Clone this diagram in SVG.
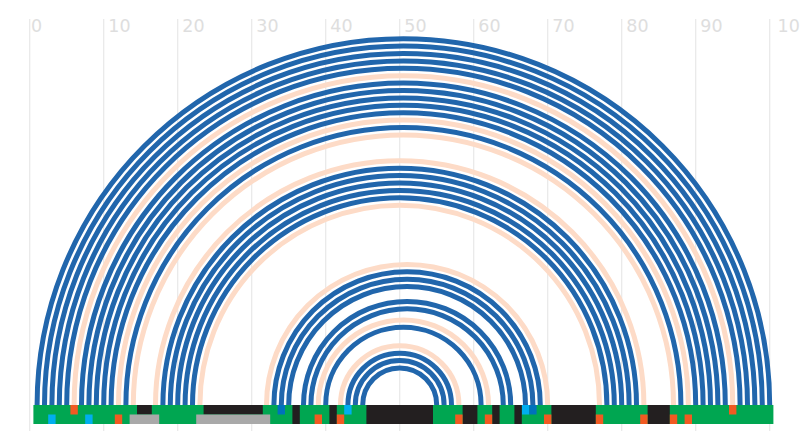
<svg xmlns="http://www.w3.org/2000/svg" width="800" height="448" viewBox="0 0 800 448">
<style>
.grid line{stroke:#e8e8e8;stroke-width:1.2}
.grid text{font-family:"DejaVu Sans",sans-serif;font-size:17.5px;fill:#dedede}
.arc{fill:none;stroke-width:5}
.b{stroke:#2166ac}
.o{stroke:#fddbc7}
.g{fill:#00a651}.k{fill:#231f20}.r{fill:#f15a22}.c{fill:#00aeef}.d{fill:#0072bc}.y{fill:#a9a9a9}
</style>
<rect width="800" height="448" fill="#ffffff"/>
<g id="grid" class="grid">
<line x1="29.7" y1="19" x2="29.7" y2="431"/><text x="31" y="32">0</text>
<line x1="103.7" y1="19" x2="103.7" y2="431"/><text x="108.3" y="32">10</text>
<line x1="177.7" y1="19" x2="177.7" y2="431"/><text x="182.3" y="32">20</text>
<line x1="251.7" y1="19" x2="251.7" y2="431"/><text x="256.3" y="32">30</text>
<line x1="325.7" y1="19" x2="325.7" y2="431"/><text x="330.3" y="32">40</text>
<line x1="399.7" y1="19" x2="399.7" y2="431"/><text x="404.3" y="32">50</text>
<line x1="473.7" y1="19" x2="473.7" y2="431"/><text x="478.3" y="32">60</text>
<line x1="547.7" y1="19" x2="547.7" y2="431"/><text x="552.3" y="32">70</text>
<line x1="621.7" y1="19" x2="621.7" y2="431"/><text x="626.3" y="32">80</text>
<line x1="695.7" y1="19" x2="695.7" y2="431"/><text x="700.3" y="32">90</text>
<line x1="769.7" y1="19" x2="769.7" y2="431"/><text x="777.5" y="32">100</text>
</g>
<g id="connectors">
<path class="arc b" d="M37.1 405A366.3 366.3 0 0 1 769.7 405"/>
<path class="arc b" d="M44.5 405A358.9 358.9 0 0 1 762.3 405"/>
<path class="arc b" d="M51.9 405A351.5 351.5 0 0 1 754.9 405"/>
<path class="arc b" d="M59.3 405A344.1 344.1 0 0 1 747.5 405"/>
<path class="arc b" d="M66.7 405A336.7 336.7 0 0 1 740.1 405"/>
<path class="arc o" d="M74.1 405A329.3 329.3 0 0 1 732.7 405"/>
<path class="arc b" d="M81.5 405A321.9 321.9 0 0 1 725.3 405"/>
<path class="arc b" d="M88.9 405A314.5 314.5 0 0 1 717.9 405"/>
<path class="arc b" d="M96.3 405A307.1 307.1 0 0 1 710.5 405"/>
<path class="arc b" d="M103.7 405A299.7 299.7 0 0 1 703.1 405"/>
<path class="arc b" d="M111.1 405A292.3 292.3 0 0 1 695.7 405"/>
<path class="arc o" d="M118.5 405A284.9 284.9 0 0 1 688.3 405"/>
<path class="arc b" d="M125.9 405A277.5 277.5 0 0 1 680.9 405"/>
<path class="arc o" d="M133.3 405A270.1 270.1 0 0 1 673.5 405"/>
<path class="arc o" d="M155.5 405A244.2 244.2 0 0 1 643.9 405"/>
<path class="arc b" d="M162.9 405A236.8 236.8 0 0 1 636.5 405"/>
<path class="arc b" d="M170.3 405A229.4 229.4 0 0 1 629.1 405"/>
<path class="arc b" d="M177.7 405A222 222 0 0 1 621.7 405"/>
<path class="arc b" d="M185.1 405A214.6 214.6 0 0 1 614.3 405"/>
<path class="arc b" d="M192.5 405A207.2 207.2 0 0 1 606.9 405"/>
<path class="arc o" d="M199.9 405A199.8 199.8 0 0 1 599.5 405"/>
<path class="arc o" d="M266.5 405A140.6 140.6 0 0 1 547.7 405"/>
<path class="arc b" d="M273.9 405A133.2 133.2 0 0 1 540.3 405"/>
<path class="arc b" d="M281.3 405A125.8 125.8 0 0 1 532.9 405"/>
<path class="arc b" d="M288.7 405A118.4 118.4 0 0 1 525.5 405"/>
<path class="arc b" d="M303.5 405A103.6 103.6 0 0 1 510.7 405"/>
<path class="arc b" d="M310.9 405A96.2 96.2 0 0 1 503.3 405"/>
<path class="arc o" d="M318.3 405A85.1 85.1 0 0 1 488.5 405"/>
<path class="arc b" d="M325.7 405A77.7 77.7 0 0 1 481.1 405"/>
<path class="arc o" d="M340.5 405A59.2 59.2 0 0 1 458.9 405"/>
<path class="arc b" d="M347.9 405A51.8 51.8 0 0 1 451.5 405"/>
<path class="arc b" d="M355.3 405A44.4 44.4 0 0 1 444.1 405"/>
<path class="arc b" d="M362.7 405A37 37 0 0 1 436.7 405"/>
</g>
<g id="track">
<rect class="g" x="33.4" y="405" width="740" height="19"/>
<g id="track-top">
<rect class="r" x="70.4" y="405" width="7.4" height="9.5"/>
<rect class="k" x="137" y="405" width="14.8" height="9.5"/>
<rect class="k" x="203.6" y="405" width="59.2" height="9.5"/>
<rect class="d" x="277.6" y="405" width="7.4" height="9.5"/>
<rect class="c" x="344.2" y="405" width="7.4" height="9.5"/>
<rect class="c" x="521.8" y="405" width="7.4" height="9.5"/>
<rect class="d" x="529.2" y="405" width="7.4" height="9.5"/>
<rect class="r" x="729" y="405" width="7.4" height="9.5"/>
</g>
<g id="track-both">
<rect class="k" x="292.4" y="405" width="7.4" height="19"/>
<rect class="k" x="329.4" y="405" width="7.4" height="19"/>
<rect class="k" x="366.4" y="405" width="66.6" height="19"/>
<rect class="k" x="462.6" y="405" width="14.8" height="19"/>
<rect class="k" x="492.2" y="405" width="7.4" height="19"/>
<rect class="k" x="514.4" y="405" width="7.4" height="19"/>
<rect class="k" x="551.4" y="405" width="44.4" height="19"/>
<rect class="k" x="647.6" y="405" width="22.2" height="19"/>
</g>
<g id="track-bottom">
<rect class="c" x="48.2" y="414.5" width="7.4" height="9.5"/>
<rect class="c" x="85.2" y="414.5" width="7.4" height="9.5"/>
<rect class="r" x="114.8" y="414.5" width="7.4" height="9.5"/>
<rect class="y" x="129.6" y="414.5" width="29.6" height="9.5"/>
<rect class="y" x="196.2" y="414.5" width="74" height="9.5"/>
<rect class="r" x="314.6" y="414.5" width="7.4" height="9.5"/>
<rect class="r" x="336.8" y="414.5" width="7.4" height="9.5"/>
<rect class="r" x="455.2" y="414.5" width="7.4" height="9.5"/>
<rect class="r" x="484.8" y="414.5" width="7.4" height="9.5"/>
<rect class="r" x="544" y="414.5" width="7.4" height="9.5"/>
<rect class="r" x="595.8" y="414.5" width="7.4" height="9.5"/>
<rect class="r" x="640.2" y="414.5" width="7.4" height="9.5"/>
<rect class="r" x="669.8" y="414.5" width="7.4" height="9.5"/>
<rect class="r" x="684.6" y="414.5" width="7.4" height="9.5"/>
</g>
</g>
</svg>
